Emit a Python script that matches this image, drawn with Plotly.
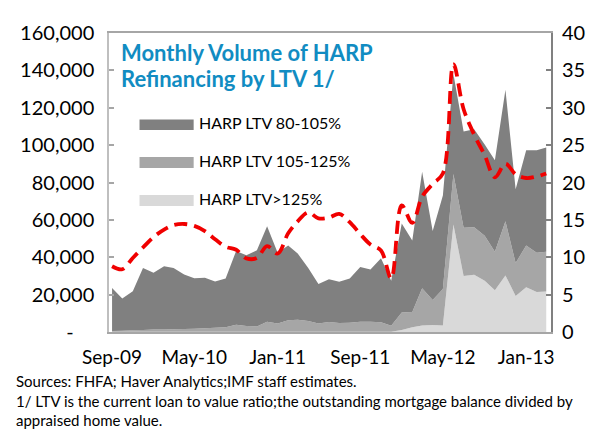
import plotly.graph_objects as go
import pandas as pd

# ---------------- data ----------------
months = pd.date_range("2009-09-01", periods=43, freq="MS")

ltv_gt125 = [100, 100, 100, 100, 100, 100, 100, 100, 100, 100,
             200, 200, 200, 200, 200, 200, 200, 200, 200, 200,
             200, 200, 200, 200, 200, 200, 200, 200, 1100, 2500,
             3500, 3800, 3500, 57500, 30000, 30600, 27400, 22300, 30300, 19300,
             24000, 21400, 21700]

ltv_105_125 = [500, 600, 800, 1000, 1200, 1300, 1400, 1500, 1600, 1900,
               2100, 2400, 3700, 3000, 2800, 5300, 4300, 6100, 6400, 5700,
               4300, 5200, 4600, 4800, 5300, 5300, 5000, 3200, 9400, 8200,
               19900, 13300, 19500, 27000, 25800, 25500, 24100, 20600, 28900, 17600,
               22300, 21000, 21200]

ltv_80_105 = [22900, 17200, 20850, 33200, 30400, 33750, 32800, 29200, 27050, 27000,
              24700, 26000, 39500, 37900, 40700, 51100, 37900, 40000, 35400, 28400,
              21200, 22850, 22100, 23600, 29300, 27900, 34200, 24000, 47500, 38200,
              62400, 36900, 50000, 53500, 51500, 52400, 48900, 49000, 70400, 39500,
              51000, 54900, 55800]

harp_share = [8.8, 8.4, 9.9, 11.3, 12.7, 13.7, 14.3, 14.45, 14.2, 13.5,
              12.4, 11.4, 11.0, 9.85, 9.9, 11.5, 10.5, 13.2, 14.8, 16.0,
              15.2, 15.3, 15.8, 14.7, 13.1, 11.7, 10.9, 7.15, 16.95, 14.6,
              18.1, 19.8, 21.2, 35.8, 29.8, 26.4, 23.65, 20.7, 22.5, 21.1,
              20.6, 20.8, 21.2]

series_names = ["HARP LTV 80-105%", "HARP LTV 105-125%", "HARP LTV>125%"]
series_colors = ["#808080", "#A6A6A6", "#D9D9D9"]

left_tickvals = [0, 20000, 40000, 60000, 80000, 100000, 120000, 140000, 160000]
left_ticktext = ["-\u00a0\u00a0\u00a0\u00a0", "20,000", "40,000", "60,000", "80,000",
                 "100,000", "120,000", "140,000", "160,000"]
right_tickvals = [0, 5, 10, 15, 20, 25, 30, 35, 40]
x_tickvals = ["2009-09-01", "2010-05-01", "2011-01-01", "2011-09-01", "2012-05-01", "2013-01-01"]

title_lines = ["Monthly Volume of HARP", "Refinancing by LTV 1/"]
notes = ["Sources: FHFA; Haver Analytics;IMF staff estimates.",
         "1/ LTV is the current loan to value ratio;the outstanding mortgage balance divided by",
         "appraised home value."]

# ---------------- layout geometry ----------------
# the page body has an 8px margin, so the figure is drawn 8px in from the
# window's top-left corner; all placement below is given in window pixels.
OFF = 8
W, H = 597 - OFF, 432 - OFF
PLOT_L, PLOT_R, PLOT_T, PLOT_B = 104, 553, 21, 332   # window pixels
ML, MR = PLOT_L - OFF, (597 - PLOT_R)
MT, MB = PLOT_T - OFF, (432 - PLOT_B)
PW, PH = PLOT_R - PLOT_L, PLOT_B - PLOT_T


def px(x):
    return (x - PLOT_L) / PW


def py(y):
    return (PLOT_B - y) / PH


FONT = "Lato, Carlito, 'Open Sans', sans-serif"

fig = go.Figure()
stack = [(series_names[2], ltv_gt125, series_colors[2]),
         (series_names[1], ltv_105_125, series_colors[1]),
         (series_names[0], ltv_80_105, series_colors[0])]
for name, vals, col in stack:
    fig.add_trace(go.Scatter(x=months, y=vals, name=name, stackgroup="one",
                             mode="none", fillcolor=col, showlegend=False))

fig.add_trace(go.Scatter(x=months, y=harp_share, yaxis="y2", mode="lines",
                         name="HARP share", showlegend=False,
                         line=dict(color="#F00000", width=3.8, dash="13px,7px",
                                   shape="spline", smoothing=1)))

# legend drawn manually (swatches + labels)
shapes = []
annotations = []
leg_y = [(111, 122), (150, 161.5), (189.5, 201)]
for (y0, y1), name, col in zip(leg_y, series_names, series_colors):
    shapes.append(dict(type="rect", xref="paper", yref="paper",
                       x0=px(135), x1=px(190), y0=py(y1), y1=py(y0),
                       fillcolor=col, line=dict(width=0)))
    annotations.append(dict(text=name, xref="paper", yref="paper",
                            x=px(193), y=py((y0 + y1) / 2 - 2.5), xanchor="left", yanchor="middle",
                            showarrow=False, font=dict(family=FONT, size=16, color="black")))

for txt, yc in zip(title_lines, [41, 68]):
    annotations.append(dict(text="<b>" + txt + "</b>", xref="paper", yref="paper",
                            x=px(114), y=py(yc), xanchor="left", yanchor="middle",
                            showarrow=False, font=dict(family=FONT, size=22, color="#118CC2")))

for txt, yc in zip(notes, [383, 404, 424]):
    annotations.append(dict(text=txt, xref="paper", yref="paper",
                            x=px(7), y=py(yc), xanchor="left", yanchor="middle",
                            showarrow=False, font=dict(family=FONT, size=15, color="black")))

fig.update_layout(
    width=W, height=H,
    margin=dict(l=ML, r=MR, t=MT, b=MB),
    paper_bgcolor="white", plot_bgcolor="white",
    font=dict(family=FONT, size=20, color="black"),
    showlegend=False,
    shapes=shapes, annotations=annotations,
    xaxis=dict(type="date", range=["2009-08-23", "2013-03-15"],
               tickvals=x_tickvals, tickformat="%b-%y",
               tickfont=dict(family=FONT, size=19, color="black"),
               showgrid=False, zeroline=False, showline=True,
               linecolor="#A6A6A6", linewidth=1.5, mirror=True,
               ticks="", ticklabelstandoff=7),
    yaxis=dict(range=[0, 160000], tickvals=left_tickvals, ticktext=left_ticktext,
               showgrid=False, zeroline=False, showline=True,
               linecolor="#BFBFBF", linewidth=1.5,
               ticks="inside", ticklen=5, tickcolor="#A6A6A6", tickwidth=1.5,
               ticklabelstandoff=9),
    yaxis2=dict(range=[0, 40], tickvals=right_tickvals, overlaying="y", side="right",
                showgrid=False, zeroline=False, showline=True,
                linecolor="#808080", linewidth=2,
                ticks="inside", ticklen=5, tickcolor="#808080", tickwidth=1.5,
                ticklabelstandoff=5),
)

fig.write_html("out.html")
